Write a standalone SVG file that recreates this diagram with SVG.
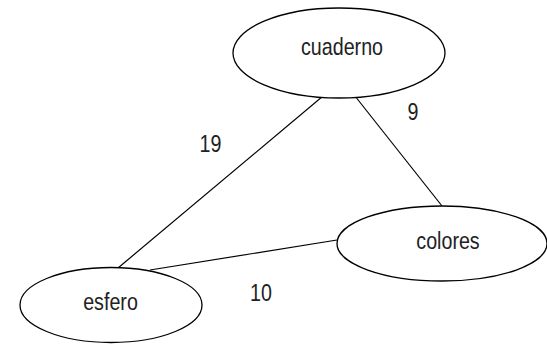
<svg xmlns="http://www.w3.org/2000/svg" width="547" height="345" viewBox="0 0 547 345">
<style>
.node ellipse{fill:#fff;stroke:#000;stroke-width:1.3}
text{font-family:"Liberation Sans",Arial,sans-serif;font-size:24px;fill:#222;text-anchor:middle}
.edges line{stroke:#000;stroke-width:1.2}
</style>
<rect width="547" height="345" fill="#fff"/>
<g class="edges">
<line x1="329" y1="91" x2="118" y2="268"/>
<line x1="351" y1="91" x2="442" y2="206"/>
<line x1="150" y1="270" x2="337" y2="240"/>
<text transform="translate(210.5,152) scale(0.82,1)">19</text>
<text transform="translate(413,119.5) scale(0.82,1)">9</text>
<text transform="translate(261,300.5) scale(0.82,1)">10</text>
</g>
<g id="cuaderno" class="node"><ellipse cx="339" cy="53" rx="106" ry="45"/><text transform="translate(342,55) scale(0.82,1)">cuaderno</text></g>
<g id="colores" class="node"><ellipse cx="442" cy="243.5" rx="105" ry="37.5"/><text transform="translate(448,249) scale(0.82,1)">colores</text></g>
<g id="esfero" class="node"><ellipse cx="111" cy="305" rx="91" ry="37.5"/><text transform="translate(110.5,310) scale(0.82,1)">esfero</text></g>
</svg>
